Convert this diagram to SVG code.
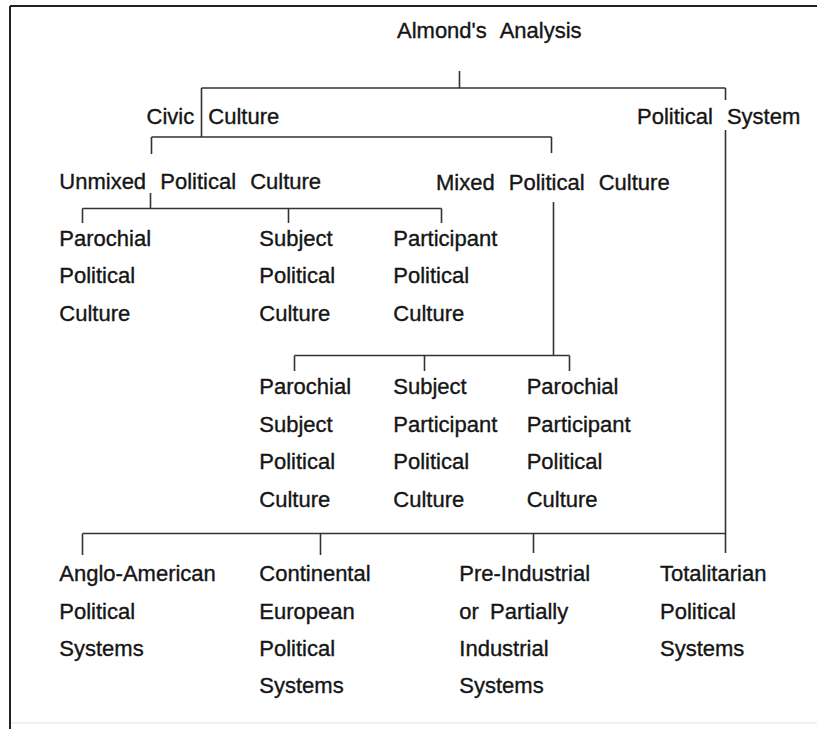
<svg xmlns="http://www.w3.org/2000/svg" width="817" height="729" viewBox="0 0 817 729">
<style>
text{font-family:"Liberation Sans",Arial,sans-serif;font-size:22px;fill:#151515;stroke:#151515;stroke-width:0.35;word-spacing:8px}
.c{stroke:#333;stroke-width:1.6;fill:none}
</style>
<rect width="817" height="729" fill="#fff"/>
<g id="frame" fill="none">
<path d="M10,6H817M10,6V729" stroke="#222" stroke-width="2"/>
<path d="M11,723H817" stroke="#eee" stroke-width="1.5"/>
</g>
<g id="connectors" class="c">
<path class="c" d="M459.5,71V88M201.5,88H725.5M201.5,88V137M725.5,88V100"/>
<path class="c" d="M151.5,137H551.5M151.5,137V154M551.5,137V153"/>
<path class="c" d="M725.5,130V553"/>
<path class="c" d="M150.5,193V208.5M82.5,208.5H441.5M82.5,208.5V223M288.5,208.5V223M441.5,208.5V223"/>
<path class="c" d="M553.5,202V355.5M294.5,355.5H569.5M294.5,355.5V371M424.5,355.5V371M569.5,355.5V371"/>
<path class="c" d="M82.5,533.5H725.5M82.5,533.5V555M320.5,533.5V555M533.5,533.5V553"/>
</g>
<g id="almond"><text x="397" y="38">Almond's Analysis</text></g>
<g id="civic"><text x="146.5" y="123.5">Civic Culture</text></g>
<g id="polsys"><text x="637" y="124">Political System</text></g>
<g id="unmixed"><text x="59.3" y="188.5">Unmixed Political Culture</text></g>
<g id="mixed"><text x="436" y="189.5">Mixed Political Culture</text></g>
<g id="parochial"><text x="59.3" y="245.7">Parochial</text><text x="59.3" y="283.3">Political</text><text x="59.3" y="320.7">Culture</text></g>
<g id="subject"><text x="259.3" y="245.7">Subject</text><text x="259.3" y="283.3">Political</text><text x="259.3" y="320.7">Culture</text></g>
<g id="participant"><text x="393.3" y="245.7">Participant</text><text x="393.3" y="283.3">Political</text><text x="393.3" y="320.7">Culture</text></g>
<g id="parochial-subject"><text x="259.3" y="394">Parochial</text><text x="259.3" y="431.7">Subject</text><text x="259.3" y="469.3">Political</text><text x="259.3" y="506.7">Culture</text></g>
<g id="subject-participant"><text x="393.3" y="394">Subject</text><text x="393.3" y="431.7">Participant</text><text x="393.3" y="469.3">Political</text><text x="393.3" y="506.7">Culture</text></g>
<g id="parochial-participant"><text x="526.7" y="394">Parochial</text><text x="526.7" y="431.7">Participant</text><text x="526.7" y="469.3">Political</text><text x="526.7" y="506.7">Culture</text></g>
<g id="anglo"><text x="59.3" y="581">Anglo-American</text><text x="59.3" y="618.5">Political</text><text x="59.3" y="656">Systems</text></g>
<g id="continental"><text x="259.3" y="581">Continental</text><text x="259.3" y="618.5">European</text><text x="259.3" y="656">Political</text><text x="259.3" y="693.3">Systems</text></g>
<g id="preindustrial"><text x="459.3" y="581">Pre-Industrial</text><text x="459.3" y="618.5" style="word-spacing:5px">or Partially</text><text x="459.3" y="656">Industrial</text><text x="459.3" y="693.3">Systems</text></g>
<g id="totalitarian"><text x="660" y="581">Totalitarian</text><text x="660" y="618.5">Political</text><text x="660" y="656">Systems</text></g>
</svg>
